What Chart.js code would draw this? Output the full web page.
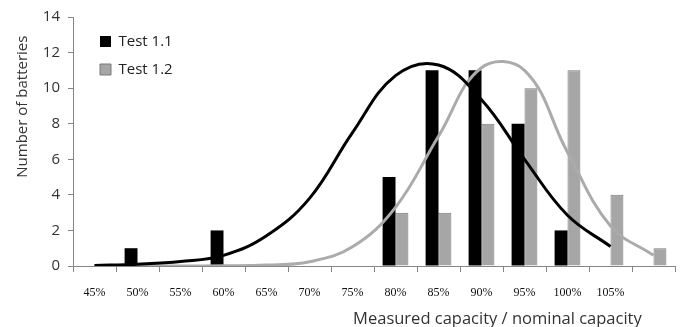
<!DOCTYPE html>
<html>
<head>
<meta charset="utf-8">
<script src="https://cdn.jsdelivr.net/npm/chart.js@4/dist/chart.umd.min.js"></script>
<style>
  html, body { margin: 0; padding: 0; background: #fff; }
  #wrap { width: 681px; height: 327px; }
</style>
</head>
<body>
<div id="wrap"><canvas id="Chart"></canvas></div>
<script>
// categories (measured / nominal capacity), last one has no label
const categories = ['45%', '50%', '55%', '60%', '65%', '70%', '75%', '80%', '85%', '90%', '95%', '100%', '105%', ''];

// bar counts
const test11 = [0, 1, 0, 2, 0, 0, 0, 5, 11, 11, 8, 2, 0, 0];
const test12 = [0, 0, 0, 0, 0, 0, 0, 3, 3, 8, 10, 11, 4, 1];

// fitted curves, read at each category
const fit11 = [0.03, 0.1, 0.25, 0.6, 1.7, 3.8, 7.5, 10.7, 11.3, 9.35, 6.0, 2.85, 1.1, null];
const fit12 = [0, 0, 0, 0.01, 0.05, 0.24, 1.08, 3.3, 7.3, 11.15, 11.0, 6.4, 2.25, 0.6];

const yTicks = [0, 2, 4, 6, 8, 10, 12, 14];

const xTitle = 'Measured capacity / nominal capacity';
const yTitle = 'Number of batteries';

let myChart = null;

// axis titles sit off-centre in the original, so draw them here
const axisTitles = {
    id: 'axisTitles',
    afterDraw(chart) {
        const ctx = chart.ctx;
        const area = chart.chartArea;
        ctx.save();
        ctx.fillStyle = '#333';
        ctx.textAlign = 'center';
        ctx.textBaseline = 'middle';
        ctx.font = '16.5px "Open Sans"';
        ctx.fillText(xTitle, area.left + (area.right - area.left) * 0.705, area.bottom + 53);
        ctx.font = '15px "Open Sans"';
        ctx.translate(23, area.top + (area.bottom - area.top) * 0.36);
        ctx.rotate(-Math.PI / 2);
        ctx.fillText(yTitle, 0, 0);
        ctx.restore();
    }
};

// nudge the legend inside the plot
const legendShift = {
    id: 'legendShift',
    afterLayout(chart) {
        chart.legend.left += 14;
        chart.legend.top += 21;
    }
};

function main()
{
    var ctx = document.getElementById('Chart');
    myChart = new Chart(ctx, {
        type: 'bar',
        data: {
            labels: categories,
            datasets: [
                {
                    label: 'Test 1.1',
                    data: test11,
                    backgroundColor: '#000000',
                    borderColor: '#000000',
                    borderWidth: 0,
                    order: 2
                },
                {
                    label: 'Test 1.2',
                    data: test12,
                    backgroundColor: '#a6a6a6',
                    borderColor: '#7a7a7a',
                    borderWidth: 1,
                    order: 2
                },
                {
                    type: 'line',
                    label: 'fit 1.1',
                    data: fit11,
                    borderColor: '#000000',
                    borderWidth: 3,
                    pointRadius: 0,
                    tension: 0.4,
                    fill: false,
                    order: 0
                },
                {
                    type: 'line',
                    label: 'fit 1.2',
                    data: fit12,
                    borderColor: '#ababab',
                    borderWidth: 3,
                    pointRadius: 0,
                    tension: 0.4,
                    fill: false,
                    order: 1
                }
            ]
        },
        options: {
            responsive: true,
            maintainAspectRatio: false,
            animation: false,
            layout: {
                padding: { left: 43, top: 15, right: 6, bottom: 25 }
            },
            datasets: {
                bar: {
                    categoryPercentage: 0.6,
                    barPercentage: 1.0
                }
            },
            plugins: {
                tooltip: { enabled: false },
                legend: {
                    position: 'chartArea',
                    align: 'start',
                    labels: {
                        boxWidth: 11,
                        boxHeight: 11,
                        padding: 13,
                        color: '#222',
                        font: { family: 'Open Sans', size: 15 },
                        filter: item => item.datasetIndex < 2
                    }
                }
            },
            scales: {
                x: {
                    afterFit: scale => { scale.height = 36; },
                    border: { color: '#868686', width: 1 },
                    grid: {
                        offset: true,
                        drawOnChartArea: false,
                        drawTicks: true,
                        tickLength: 6,
                        color: '#868686'
                    },
                    ticks: {
                        padding: 14,
                        maxRotation: 0,
                        autoSkip: false,
                        color: '#111',
                        font: { family: 'Liberation Serif', size: 12 }
                    }
                },
                y: {
                    min: 0,
                    max: 14,
                    afterFit: scale => { scale.width = 30; },
                    afterBuildTicks: scale => {
                        scale.ticks = yTicks.map(v => ({ value: v }));
                    },
                    border: { color: '#868686', width: 1 },
                    grid: {
                        drawOnChartArea: false,
                        drawTicks: true,
                        tickLength: 5,
                        color: '#868686'
                    },
                    ticks: {
                        padding: 8,
                        color: '#333',
                        font: { family: 'Open Sans', size: 15 }
                    }
                }
            }
        },
        plugins: [axisTitles, legendShift]
    });
}

main();
</script>
</body>
</html>
